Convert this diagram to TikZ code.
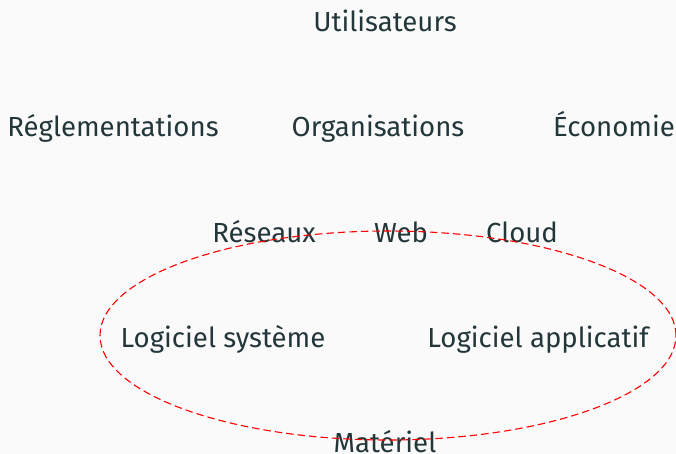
\documentclass[tikz,border=0pt]{standalone}
\usepackage{fontspec}
\setmainfont{Fira Sans}
\usetikzlibrary{shapes.geometric}
\definecolor{bgc}{HTML}{FAFAFA}
\definecolor{txt}{HTML}{23373B}
\tikzset{lbl/.style={text=txt,font=\fontsize{27.6}{32}\selectfont,inner sep=0pt,anchor=base}}
\begin{document}
\begin{tikzpicture}[x=1pt,y=-1pt]
\fill[bgc] (0,0) rectangle (676,454);
\useasboundingbox (0,0) rectangle (676,454);
\node[lbl] (u) at (385,32) {Utilisateurs};
\node[lbl] (r) at (113,137) {Réglementations};
\node[lbl] (o) at (378,137) {Organisations};
\node[lbl] (e) at (614,137) {Économie};
\node[lbl] (res) at (264,242) {Réseaux};
\node[lbl] (w) at (401,242) {Web};
\node[lbl] (c) at (522,242) {Cloud};
\node[lbl] (ls) at (223,347) {Logiciel système};
\node[lbl] (la) at (538,347) {Logiciel applicatif};
\node[lbl] (m) at (385,452) {Matériel};
\node[draw=red,dash pattern=on 7.5pt off 4pt,line width=1.1pt,ellipse,minimum width=576pt,minimum height=209pt,inner sep=0pt] (ell) at (388,335.5) {};
\end{tikzpicture}
\end{document}
